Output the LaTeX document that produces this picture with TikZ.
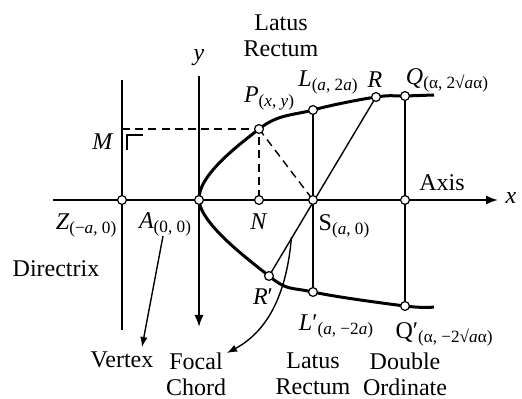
\documentclass[tikz,border=0pt]{standalone}
\usepackage{fontspec}
\setmainfont{Liberation Serif}
\usetikzlibrary{arrows.meta,calc}
\newcommand\lsub[1]{\raisebox{-2pt}{\fontsize{8.6}{9}\selectfont #1}}

\begin{document}
\begin{tikzpicture}[x=0.5pt,y=-0.5pt,
  txt/.style={font=\fontsize{12}{12.8}\selectfont,inner sep=0pt,align=center},
  dot/.style={circle,draw,fill=white,line width=0.6pt,inner sep=0pt,minimum size=4.4pt},
  thinline/.style={line width=0.7pt},
  axisline/.style={line width=1pt,-{Latex[length=6pt,width=4.6pt]}},
  dashline/.style={line width=0.7pt,dash pattern=on 4pt off 2.6pt},
  pointer/.style={line width=0.7pt,-{Latex[length=5pt,width=3.8pt]}}]
\useasboundingbox (0,0) rectangle (522,399);
% points
\coordinate (Z) at (122,200); \coordinate (A) at (199,200);
\coordinate (N) at (259,200); \coordinate (S) at (313,200);
\coordinate (D) at (405,200);
\coordinate (P) at (259,129); \coordinate (L) at (313,110);
\coordinate (R) at (376,97);  \coordinate (Q) at (405,96);
\coordinate (Rp) at (269,276); \coordinate (Lp) at (313,292);
\coordinate (Qp) at (405,306);
\coordinate (Ue) at (434,95); \coordinate (De) at (434,307);
\coordinate (xs) at (53,200); \coordinate (xe) at (498,200);
\coordinate (ys) at (199,327); \coordinate (ye) at (199,76);
\coordinate (Zt) at (122,80); \coordinate (Zb) at (122,330);
\coordinate (Mp) at (122,129);
% axes and directrix
\draw[axisline] (xs) -- (xe);
\draw[axisline,{Latex[length=6pt,width=4.6pt]}-] (ys) -- (ye);
\draw[thinline] (Zt) -- (Zb);
\draw[thinline] (127,150) -- (127,135) -- (143,135);
% ordinates and chord
\draw[thinline] (L) -- (Lp);
\draw[thinline] (Q) -- (Qp);
\draw[thinline] (R) -- (Rp);
\draw[dashline] (Mp) -- (P) -- (N);
\draw[dashline] (P) -- (S);
% parabola
\draw[line width=1.5pt] plot[smooth,tension=0.6] coordinates
  {(Ue) (Q) (R) (L) (P) (A) (Rp) (Lp) (Qp) (De)};
% pointers
\coordinate (fc) at ($(S)!0.49!(Rp)$);
\draw[pointer] (fc) .. controls (287,290) and (270,330) .. (227,353);
\draw[pointer] (163,236) -- (142,347);
% dots
\foreach \p in {Z,A,N,S,D,P,L,R,Q,Rp,Lp,Qp}
  \node[dot] at (\p) {};
% labels
\node[txt] (lZ) at (86,225) {\textit{Z}\lsub{(−\textit{a}, 0)}};
\node[txt] (lA) at (165,224) {\textit{A}\lsub{(0, 0)}};
\node[txt] (lM) at (103,142) {\textit{M}};
\node[txt] (lN) at (259,222) {\textit{N}};
\node[txt] (lP) at (269,99) {\textit{P}\lsub{(\textit{x}, \textit{y})}};
\node[txt] (lL) at (328,82) {\textit{L}\lsub{(\textit{a}, 2\textit{a})}};
\node[txt] (lR) at (375,80) {\textit{R}};
\node[txt] (lQ) at (447,80) {\textit{Q}\lsub{(α, 2√\textit{a}α)}};
\node[txt] (lS) at (344,226) {S\lsub{(\textit{a}, 0)}};
\node[txt] (lRp) at (263,297) {\textit{R}′};
\node[txt] (lLp) at (336,326) {\textit{L}′\lsub{(\textit{a}, −2\textit{a})}};
\node[txt] (lQp) at (444,334) {Q′\lsub{(α, −2√\textit{a}α)}};
\node[txt] (lx) at (511,198) {\textit{x}};
\node[txt] (ly) at (199,58) {\textit{y}};
\node[txt] (lAxis) at (442,183) {Axis};
\node[txt] (lDir) at (56,269) {Directrix};
\node[txt] (lLat) at (281,36) {Latus\\Rectum};
\node[txt] (lVer) at (122,360) {Vertex};
\node[txt] (lFoc) at (196,374) {Focal\\Chord};
\node[txt] (lLat2) at (313,374) {Latus\\Rectum};
\node[txt] (lDou) at (405,374) {Double\\Ordinate};
\end{tikzpicture}
\end{document}
